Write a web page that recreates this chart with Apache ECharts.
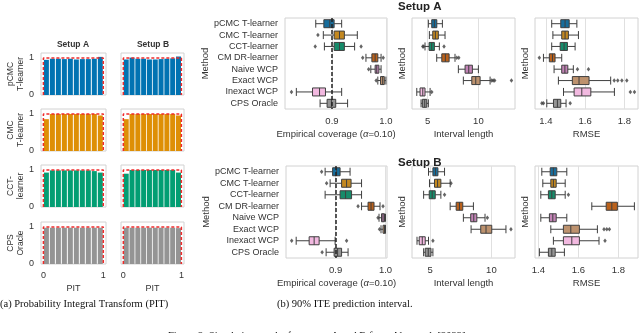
<!DOCTYPE html>
<html>
<head>
<meta charset="utf-8">
<script src="https://cdn.jsdelivr.net/npm/echarts@6/dist/echarts.min.js"></script>
<style>html,body{margin:0;background:#fff}#chart{width:640px;height:333px}</style>
</head>
<body>
<div id="chart"></div>
<script>
// ---- data ---------------------------------------------------------------
const METHODS = ['pCMC T-learner', 'CMC T-learner', 'CCT-learner', 'CM DR-learner',
  'Naive WCP', 'Exact WCP', 'Inexact WCP', 'CPS Oracle'];

// box stats per method: [low whisker, Q1, median, Q3, high whisker]
const A_COV = [
  [0.870, 0.885, 0.896, 0.904, 0.918],
  [0.884, 0.904, 0.914, 0.923, 0.947],
  [0.886, 0.904, 0.914, 0.923, 0.942],
  [0.963, 0.974, 0.980, 0.985, 0.991],
  [0.972, 0.980, 0.983, 0.987, 0.991],
  [0.985, 0.990, 0.994, 0.997, 1.000],
  [0.834, 0.864, 0.877, 0.888, 0.918],
  [0.878, 0.891, 0.899, 0.907, 0.929],
];
const A_COV_OUT = [[], [0.874], [0.869, 0.954], [0.957, 0.995], [0.968], [0.982], [0.825], []];

const A_LEN = [
  [5.08, 5.41, 5.67, 5.91, 6.46],
  [5.18, 5.51, 5.77, 6.06, 6.72],
  [4.75, 5.15, 5.41, 5.67, 6.16],
  [5.90, 6.40, 6.75, 7.12, 7.70],
  [8.03, 8.69, 9.05, 9.41, 10.00],
  [8.52, 9.35, 9.74, 10.17, 11.15],
  [3.94, 4.26, 4.53, 4.75, 5.25],
  [4.36, 4.49, 4.72, 4.92, 5.08],
];
const A_LEN_OUT = [[], [], [4.53, 4.62, 6.62], [7.87, 8.07], [], [11.3, 11.45, 11.6, 13.25], [5.41], []];

const A_RMSE = [
  [1.430, 1.476, 1.498, 1.519, 1.558],
  [1.436, 1.481, 1.498, 1.515, 1.566],
  [1.430, 1.473, 1.493, 1.510, 1.549],
  [1.388, 1.418, 1.434, 1.447, 1.481],
  [1.442, 1.481, 1.497, 1.512, 1.540],
  [1.464, 1.535, 1.569, 1.620, 1.730],
  [1.490, 1.544, 1.583, 1.629, 1.749],
  [1.405, 1.439, 1.459, 1.476, 1.503],
];
const A_RMSE_OUT = [[], [], [], [1.367], [1.561, 1.617], [1.748, 1.766, 1.787, 1.812], [1.830, 1.851], [1.380, 1.388, 1.524]];

const B_COV = [
  [0.879, 0.894, 0.902, 0.909, 0.929],
  [0.889, 0.912, 0.922, 0.931, 0.952],
  [0.879, 0.909, 0.920, 0.932, 0.952],
  [0.952, 0.965, 0.971, 0.977, 0.989],
  [0.987, 0.992, 0.995, 0.998, 1.000],
  [0.991, 0.995, 0.998, 1.000, 1.000],
  [0.821, 0.847, 0.857, 0.867, 0.899],
  [0.881, 0.897, 0.904, 0.912, 0.925],
];
const B_COV_OUT = [[0.872], [0.882], [], [0.945, 0.995], [0.985], [0.988], [0.812, 0.922], [0.873]];

const B_LEN = [
  [4.86, 5.22, 5.43, 5.63, 6.17],
  [4.94, 5.35, 5.60, 5.87, 6.63],
  [4.46, 4.92, 5.16, 5.41, 5.87],
  [6.63, 7.12, 7.39, 7.66, 8.53],
  [7.71, 8.31, 8.56, 8.81, 9.48],
  [8.34, 9.13, 9.56, 10.03, 11.19],
  [3.92, 4.10, 4.35, 4.59, 4.86],
  [4.46, 4.59, 4.84, 5.06, 5.22],
];
const B_LEN_OUT = [[], [6.70], [6.17], [], [9.67], [11.6], [5.22], []];

const B_RMSE = [
  [1.417, 1.459, 1.475, 1.492, 1.542],
  [1.422, 1.462, 1.475, 1.489, 1.534],
  [1.412, 1.450, 1.467, 1.484, 1.534],
  [1.667, 1.739, 1.767, 1.795, 1.880],
  [1.412, 1.455, 1.472, 1.489, 1.542],
  [1.462, 1.525, 1.562, 1.605, 1.695],
  [1.475, 1.525, 1.567, 1.605, 1.703],
  [1.405, 1.450, 1.467, 1.484, 1.530],
];
const B_RMSE_OUT = [[], [], [1.550], [], [], [1.728, 1.742, 1.755], [1.733], []];

const COV_TICKS = [0.9, 1.0];
const LEN_TICKS = [5, 10];
const RMSE_TICKS = [1.4, 1.6, 1.8];
const COV_TARGET = 0.9;

// PIT histograms (10 bins on [0,1])
const PIT_BINS = [0.05, 0.15, 0.25, 0.35, 0.45, 0.55, 0.65, 0.75, 0.85, 0.95];
const PIT_ROWS = ['pCMC\nT-learner', 'CMC\nT-learner', 'CCT-\nlearner', 'CPS\nOracle'];
const PIT_A = [
  [0.95, 0.98, 0.98, 0.97, 0.98, 0.96, 0.97, 0.97, 0.98, 1.03],
  [0.86, 1.00, 1.00, 1.00, 1.00, 1.00, 1.00, 1.00, 1.00, 0.96],
  [0.93, 0.99, 0.99, 0.99, 0.99, 0.99, 0.99, 0.99, 0.97, 0.93],
  [0.98, 0.98, 0.98, 0.98, 0.98, 0.98, 0.98, 0.98, 0.98, 0.98],
];
const PIT_B = [
  [0.96, 1.01, 0.98, 0.98, 0.96, 0.96, 0.97, 0.98, 0.99, 1.04],
  [0.86, 1.00, 1.00, 1.00, 1.00, 1.00, 1.00, 1.00, 1.00, 0.96],
  [0.90, 1.00, 1.00, 1.00, 1.00, 1.00, 1.00, 1.00, 1.00, 0.93],
  [0.98, 0.98, 0.98, 0.98, 0.98, 0.98, 0.98, 0.98, 0.98, 0.97],
];
const PIT_TICKS = [0, 1];
const UNIFORM = [[0, 0], [0, 1], [1, 1], [1, 0]];

// ---- style ---------------------------------------------------------------
const BOX_FILL = ['#176d9c', '#c38820', '#168b6a', '#ba611b', '#c283b6', '#bd926e', '#f2b9e0', '#949494'];
const PIT_FILL = ['#0173b2', '#de8f05', '#029e73', '#949494'];
const TXT = '#333';
const EDGE = '#3f3f3f';
const FRAME = '#d2d2d2';
const SANS = '"Liberation Sans", Arial, sans-serif';
const SERIF = '"Liberation Serif", "Times New Roman", serif';

const grid = [], xAxis = [], yAxis = [], series = [];

function frame(rect) {
  return Object.assign({ show: true, borderColor: FRAME, borderWidth: 1, backgroundColor: '#fff' }, rect);
}

// ---- (a) PIT ---------------------------------------------------------------
const PIT_COLS = [{ left: 41, width: 65, rows: PIT_A }, { left: 121, width: 63, rows: PIT_B }];
const PIT_TOPS = [53, 109, 165, 222];

PIT_COLS.forEach((col, c) => {
  PIT_TOPS.forEach((top, r) => {
    const i = grid.length;
    grid.push(frame({ left: col.left, top, width: col.width, height: 42 }));
    xAxis.push({
      type: 'value', gridIndex: i, min: -0.04, max: 1.045,
      axisLine: { show: false }, axisTick: { show: false, customValues: PIT_TICKS }, splitLine: { show: false },
      axisLabel: { show: r === 3, customValues: PIT_TICKS, color: TXT, fontSize: 9, margin: 7 },
      name: r === 3 ? 'PIT' : '', nameLocation: 'middle', nameGap: 20,
      nameTextStyle: { color: TXT, fontSize: 9 },
    });
    yAxis.push({
      type: 'value', gridIndex: i, min: 0, max: 1.135,
      axisLine: { show: false }, axisTick: { show: false, customValues: PIT_TICKS }, splitLine: { show: false },
      axisLabel: { show: c === 0, customValues: PIT_TICKS, color: TXT, fontSize: 9, margin: 7 },
      name: c === 0 ? PIT_ROWS[r] : '', nameLocation: 'middle', nameRotate: 90, nameGap: 16,
      nameTextStyle: { color: TXT, fontSize: 8.5, lineHeight: 9.5 },
    });
    series.push({
      type: 'bar', xAxisIndex: i, yAxisIndex: i, barWidth: 5,
      itemStyle: { color: PIT_FILL[r] },
      data: PIT_BINS.map((b, k) => [b, col.rows[r][k]]),
    });
    series.push({
      type: 'line', xAxisIndex: i, yAxisIndex: i, symbol: 'none', z: 5,
      lineStyle: { color: '#ef2b2b', width: 1.5, type: [3, 2] },
      data: UNIFORM,
    });
  });
});

// ---- (b) box plots ---------------------------------------------------------
const PANELS = [
  { stats: A_COV, out: A_COV_OUT, rect: { left: 285, top: 18, width: 102, height: 91 }, min: 0.813, max: 1.002, ticks: COV_TICKS, fmt: v => v.toFixed(1), name: 'Empirical coverage ({i|α}=0.10)', labels: true, ref: COV_TARGET },
  { stats: A_LEN, out: A_LEN_OUT, rect: { left: 412, top: 18, width: 103, height: 91 }, min: 3.47, max: 13.6, ticks: LEN_TICKS, fmt: v => String(v), name: 'Interval length' },
  { stats: A_RMSE, out: A_RMSE_OUT, rect: { left: 535, top: 18, width: 103, height: 91 }, min: 1.345, max: 1.869, ticks: RMSE_TICKS, fmt: v => v.toFixed(1), name: 'RMSE' },
  { stats: B_COV, out: B_COV_OUT, rect: { left: 286, top: 166, width: 101, height: 92 }, min: 0.8006, max: 1.003, ticks: COV_TICKS, fmt: v => v.toFixed(1), name: 'Empirical coverage ({i|α}=0.10)', labels: true, ref: COV_TARGET },
  { stats: B_LEN, out: B_LEN_OUT, rect: { left: 412, top: 166, width: 103, height: 92 }, min: 3.51, max: 11.93, ticks: LEN_TICKS, fmt: v => String(v), name: 'Interval length' },
  { stats: B_RMSE, out: B_RMSE_OUT, rect: { left: 535, top: 166, width: 103, height: 92 }, min: 1.383, max: 1.898, ticks: RMSE_TICKS, fmt: v => v.toFixed(1), name: 'RMSE' },
];

PANELS.forEach(p => {
  const i = grid.length;
  grid.push(frame(p.rect));
  xAxis.push({
    type: 'value', gridIndex: i, min: p.min, max: p.max,
    axisLine: { show: false }, axisTick: { show: false, customValues: p.ticks },
    splitLine: { show: true, lineStyle: { color: '#e0e0e0', width: 1 } },
    axisLabel: { customValues: p.ticks, formatter: p.fmt, color: TXT, fontSize: 9.5, margin: 7 },
    name: p.name, nameLocation: 'middle', nameGap: 20,
    nameTextStyle: { color: TXT, fontSize: 9.5, rich: { i: { fontStyle: 'italic', fontSize: 9.5, color: TXT } } },
  });
  yAxis.push({
    type: 'category', gridIndex: i, data: METHODS, inverse: true,
    axisLine: { show: false }, axisTick: { show: false }, splitLine: { show: false },
    axisLabel: { show: !!p.labels, interval: 0, color: TXT, fontSize: 9, margin: 7 },
    name: 'Method', nameLocation: 'middle', nameRotate: 90, nameGap: p.labels ? 75 : 5,
    nameTextStyle: { color: TXT, fontSize: 9.5 },
  });
  series.push({
    type: 'boxplot', xAxisIndex: i, yAxisIndex: i, boxWidth: [8, 8],
    itemStyle: { borderColor: EDGE, borderWidth: 1 },
    data: p.stats.map((d, k) => ({ value: d, itemStyle: { color: BOX_FILL[k] } })),
  });
  const sc = {
    type: 'scatter', xAxisIndex: i, yAxisIndex: i, symbol: 'diamond', symbolSize: [3.5, 4.5], z: 4,
    itemStyle: { color: EDGE },
    data: p.out.flatMap((vals, k) => vals.map(v => [v, k])),
  };
  if (p.ref != null) {
    sc.markLine = {
      silent: true, symbol: 'none', label: { show: false }, z: 6,
      lineStyle: { color: '#222', type: [4, 2], width: 1.5 },
      data: [{ xAxis: p.ref }],
    };
  }
  series.push(sc);
});

// ---- titles & captions -------------------------------------------------------
function txt(text, x, y, font, align, fill) {
  return { type: 'text', x, y, style: { text, fill: fill || TXT, font, align, verticalAlign: 'middle' } };
}
const graphic = [
  txt('Setup A', 73, 45, 'bold 8.5px ' + SANS, 'center'),
  txt('Setup B', 153, 45, 'bold 8.5px ' + SANS, 'center'),
  txt('Setup A', 398, 7, 'bold 11.5px ' + SANS, 'left', '#222'),
  txt('Setup B', 398, 163, 'bold 11.5px ' + SANS, 'left', '#222'),
  txt('(a) Probability Integral Transform (PIT)', 0, 304, '10.5px ' + SERIF, 'left', '#111'),
  txt('(b) 90% ITE prediction interval.', 277, 304, '10.5px ' + SERIF, 'left', '#111'),
  txt('Figure 2: Simulation results for setups A and B from Alaa et al. [2023].', 318, 336, '10.5px ' + SERIF, 'center', '#111'),
];

const chart = echarts.init(document.getElementById('chart'), null, { renderer: 'canvas' });
chart.setOption({
  animation: false,
  backgroundColor: '#fff',
  textStyle: { fontFamily: SANS },
  grid, xAxis, yAxis, series, graphic,
});
</script>
</body>
</html>
